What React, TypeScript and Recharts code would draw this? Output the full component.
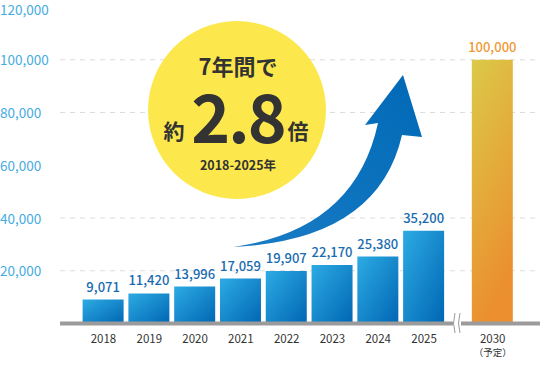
import React from "react";
import { BarChart, Bar, XAxis, YAxis, CartesianGrid, Cell, LabelList } from "recharts";

const years = ["2018", "2019", "2020", "2021", "2022", "2023", "2024", "2025", "2030"];
const positions = [0, 1, 2, 3, 4, 5, 6, 7, 8.5];
const counts = [9071, 11420, 13996, 17059, 19907, 22170, 25380, 35200, 100000];
const yTicks = [20000, 40000, 60000, 80000, 100000, 120000];
const gridValues = [20000, 40000, 80000, 100000];

const data = years.map((year, i) => ({ year, x: positions[i], value: counts[i] }));

const FONT = '"Noto Sans CJK JP", "Noto Sans", sans-serif';

const YTick = (props: any) => {
  const { y, payload } = props;
  return (
    <text x={0} y={y} dy={5.5} fontSize={13.5} fill="#45ace0" fontFamily={FONT} textAnchor="start">
      {payload.value.toLocaleString("en-US")}
    </text>
  );
};

const XTick = (props: any) => {
  const { x, y, payload } = props;
  const idx = positions.indexOf(payload.value);
  const label = years[idx];
  return (
    <g>
      <text x={x} y={y + 19.5} fontSize={11.5} fill="#333" fontFamily={FONT} textAnchor="middle">
        {label}
      </text>
      {label === "2030" && (
        <text x={x} y={y + 32.5} fontSize={9.5} fill="#333" fontFamily={FONT} textAnchor="middle">
          （予定）
        </text>
      )}
    </g>
  );
};

const ValueLabel = (props: any) => {
  const { x, y, width, value, index } = props;
  const last = index === counts.length - 1;
  return (
    <text
      x={x + width / 2}
      y={y - 8}
      fontSize={13}
      fontWeight={500}
      fill={last ? "#ef9a33" : "#1a6cb0"}
      fontFamily={FONT}
      textAnchor="middle"
    >
      {Number(value).toLocaleString("en-US")}
    </text>
  );
};

export default function App() {
  return (
    <div style={{ position: "absolute", left: 0, top: 0, width: 540, height: 365, background: "#fff" }}>
      <BarChart
        width={540}
        height={365}
        data={data}
        margin={{ top: 7, right: 0, left: 0, bottom: 11.5 }}
      >
        <defs>
          <linearGradient id="blueGrad" x1="0" y1="0" x2="1" y2="1">
            <stop offset="0%" stopColor="#2dabe3" />
            <stop offset="100%" stopColor="#0066b4" />
          </linearGradient>
          <linearGradient id="orangeGrad" x1="0" y1="0" x2="0.3" y2="1">
            <stop offset="0%" stopColor="#dbca48" />
            <stop offset="100%" stopColor="#eb8f2f" />
          </linearGradient>
        </defs>
        <CartesianGrid
          vertical={false}
          horizontalValues={gridValues}
          stroke="#dcdcdc"
          strokeDasharray="5 5"
        />
        <YAxis
          width={60}
          domain={[0, 120000]}
          ticks={yTicks}
          axisLine={false}
          tickLine={false}
          tick={<YTick />}
        />
        <XAxis
          type="number"
          dataKey="x"
          height={30}
          domain={[-0.95, 9.533]}
          ticks={positions}
          interval={0}
          tickSize={0}
          tickMargin={0}
          tickLine={false}
          axisLine={{ stroke: "#9b9b9b", strokeWidth: 4 }}
          tick={<XTick />}
        />
        <Bar dataKey="value" barSize={41} isAnimationActive={false}>
          {data.map((d, i) => (
            <Cell key={d.year} fill={i === data.length - 1 ? "url(#orangeGrad)" : "url(#blueGrad)"} />
          ))}
          <LabelList dataKey="value" content={<ValueLabel />} />
        </Bar>
      </BarChart>
      <svg
        width={540}
        height={365}
        style={{ position: "absolute", left: 0, top: 0, pointerEvents: "none" }}
      >
        <defs>
          <linearGradient id="arrowGrad" x1="0" y1="1" x2="1" y2="0">
            <stop offset="0%" stopColor="#1a7cc6" />
            <stop offset="100%" stopColor="#0069b6" />
          </linearGradient>
        </defs>
        <circle cx={237} cy={110} r={89} fill="#fce84c" />
        <text x={238} y={75} fontSize={22} fontWeight={700} fill="#333" fontFamily={FONT} textAnchor="middle">
          7年間で
        </text>
        <text x={174} y={139} fontSize={21} fontWeight={700} fill="#333" fontFamily={FONT} textAnchor="middle">
          約
        </text>
        <text x={238} y={143} fontSize={66} fontWeight={700} fill="#333" fontFamily={FONT} textAnchor="middle" letterSpacing={-2}>
          2.8
        </text>
        <text x={298} y={139} fontSize={21} fontWeight={700} fill="#333" fontFamily={FONT} textAnchor="middle">
          倍
        </text>
        <text x={238} y={170} fontSize={12.5} fontWeight={700} fill="#333" fontFamily={FONT} textAnchor="middle">
          2018-2025年
        </text>
        <path
          d="M 233 247 Q 355 230 378 123 L 365 125 L 403 75 L 422 137 L 402 135 Q 378 240 233 247 Z"
          fill="url(#arrowGrad)"
        />
        <rect x={453} y={318} width={8} height={12} fill="#fff" />
        <path d="M 455 313 Q 452 323 455 333" stroke="#9b9b9b" strokeWidth={1} fill="none" />
        <path d="M 460 313 Q 457 323 460 333" stroke="#9b9b9b" strokeWidth={1} fill="none" />
      </svg>
    </div>
  );
}
